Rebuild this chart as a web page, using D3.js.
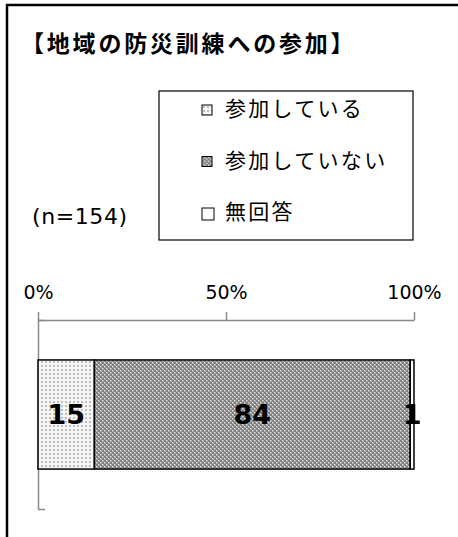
<!DOCTYPE html>
<html>
<head>
<meta charset="utf-8">
<script src="https://cdn.jsdelivr.net/npm/d3@7"></script>
<style>
  body { margin: 0; background: #fff; }
  svg { display: block; }
</style>
</head>
<body>
<div class="container"></div>
<script>
// data
const categories = ['参加している', '参加していない', '無回答']
const values = [15, 84, 1]
const tickValues = [0, 50, 100]
const title = '【地域の防災訓練への参加】'
const nLabel = '(n=154)'

const W = 458, H = 537
const jpFont = '"Noto Sans CJK JP", sans-serif'
const numFont = '"DejaVu Sans", Verdana, sans-serif'

const svg = d3.select('.container')
    .append('svg')
    .attr('width', W)
    .attr('height', H)

// patterns for the fills
const defs = svg.append('defs')
const p1 = defs.append('pattern')
    .attr('id', 'pat0').attr('width', 4).attr('height', 4)
    .attr('patternUnits', 'userSpaceOnUse')
p1.append('rect').attr('width', 4).attr('height', 4).attr('fill', '#f6f6f6')
p1.append('rect').attr('x', 1).attr('y', 1).attr('width', 2).attr('height', 2).attr('fill', '#bdbdbd')

const p2 = defs.append('pattern')
    .attr('id', 'pat1').attr('width', 4).attr('height', 4)
    .attr('patternUnits', 'userSpaceOnUse')
p2.append('rect').attr('width', 4).attr('height', 4).attr('fill', '#a8a8a8')
p2.append('rect').attr('x', 0).attr('y', 0).attr('width', 2).attr('height', 2).attr('fill', '#808080')
p2.append('rect').attr('x', 2).attr('y', 2).attr('width', 2).attr('height', 2).attr('fill', '#808080')
p2.append('rect').attr('x', 2).attr('y', 0).attr('width', 1).attr('height', 1).attr('fill', '#e8e8e8')
p2.append('rect').attr('x', 0).attr('y', 2).attr('width', 1).attr('height', 1).attr('fill', '#e8e8e8')

const fills = ['url(#pat0)', 'url(#pat1)', '#ffffff']

// frame (top + left)
svg.append('line').attr('x1', 6).attr('x2', W).attr('y1', 5).attr('y2', 5)
    .attr('stroke', '#000').attr('stroke-width', 2.5)
svg.append('line').attr('x1', 7).attr('x2', 7).attr('y1', 4).attr('y2', H)
    .attr('stroke', '#000').attr('stroke-width', 2.5)

// title
svg.append('text')
    .attr('x', 21).attr('y', 52)
    .attr('font-family', jpFont)
    .attr('font-weight', 'bold')
    .attr('font-size', 23)
    .attr('letter-spacing', 2.8)
    .text(title)

svg.append('text')
    .attr('x', 32).attr('y', 224)
    .attr('font-family', numFont)
    .attr('font-size', 22)
    .attr('letter-spacing', 0.6)
    .text(nLabel)

// legend
const legend = svg.append('g')
legend.append('rect')
    .attr('x', 159).attr('y', 91).attr('width', 254).attr('height', 149)
    .attr('fill', '#fff').attr('stroke', '#000').attr('stroke-width', 1.2)

const legY = d3.scalePoint().domain(categories).range([109, 212])
const items = legend.selectAll('g.item')
    .data(categories)
    .enter()
    .append('g')
    .attr('transform', d => `translate(202, ${legY(d)})`)
items.append('rect')
    .attr('x', 0).attr('y', -4)
    .attr('width', (d, i) => i == 2 ? 12 : 10)
    .attr('height', (d, i) => i == 2 ? 12 : 10)
    .attr('fill', (d, i) => fills[i])
    .attr('stroke', '#000').attr('stroke-width', 1)
items.append('text')
    .attr('x', 23).attr('y', 7)
    .attr('font-family', jpFont)
    .attr('font-size', 21)
    .attr('letter-spacing', 2.3)
    .text(d => d)

// scales
const x = d3.scaleLinear().domain([0, 100]).range([38, 414])
const y = d3.scaleBand().domain(['all']).range([320, 509]).padding(0.268)

const xAxis = svg.append('g')
    .attr('transform', 'translate(0, 320)')
    .call(d3.axisTop(x).tickValues(tickValues).tickSize(8).tickSizeOuter(0)
        .tickFormat(d => d + '%'))
xAxis.selectAll('path, line').attr('stroke', '#8a8a8a').attr('stroke-width', 1.5)
xAxis.selectAll('text')
    .attr('font-family', numFont)
    .attr('font-size', 19)
    .attr('fill', '#000')
    .attr('dy', -10)

const yAxis = svg.append('g')
    .attr('transform', 'translate(38, 0)')
    .call(d3.axisRight(y).tickValues([]).tickSizeOuter(7))
yAxis.select('path').attr('stroke', '#8a8a8a').attr('stroke-width', 1.5)

// stacked bar
const stack = []
let acc = 0
values.forEach((v, i) => { stack.push({ key: categories[i], v, x0: acc, x1: acc + v, i }); acc += v })

const bars = svg.append('g')
bars.selectAll('rect')
    .data(stack)
    .enter()
    .append('rect')
    .attr('x', d => x(d.x0))
    .attr('y', y('all'))
    .attr('width', d => x(d.x1) - x(d.x0))
    .attr('height', y.bandwidth())
    .attr('fill', d => fills[d.i])
    .attr('stroke', '#000')
    .attr('stroke-width', 1.5)

bars.selectAll('text')
    .data(stack)
    .enter()
    .append('text')
    .attr('x', d => (x(d.x0) + x(d.x1)) / 2)
    .attr('y', y('all') + y.bandwidth() / 2)
    .attr('dy', '0.36em')
    .attr('text-anchor', 'middle')
    .attr('font-family', numFont)
    .attr('font-weight', 'bold')
    .attr('font-size', 27)
    .text(d => d.v)
</script>
</body>
</html>
